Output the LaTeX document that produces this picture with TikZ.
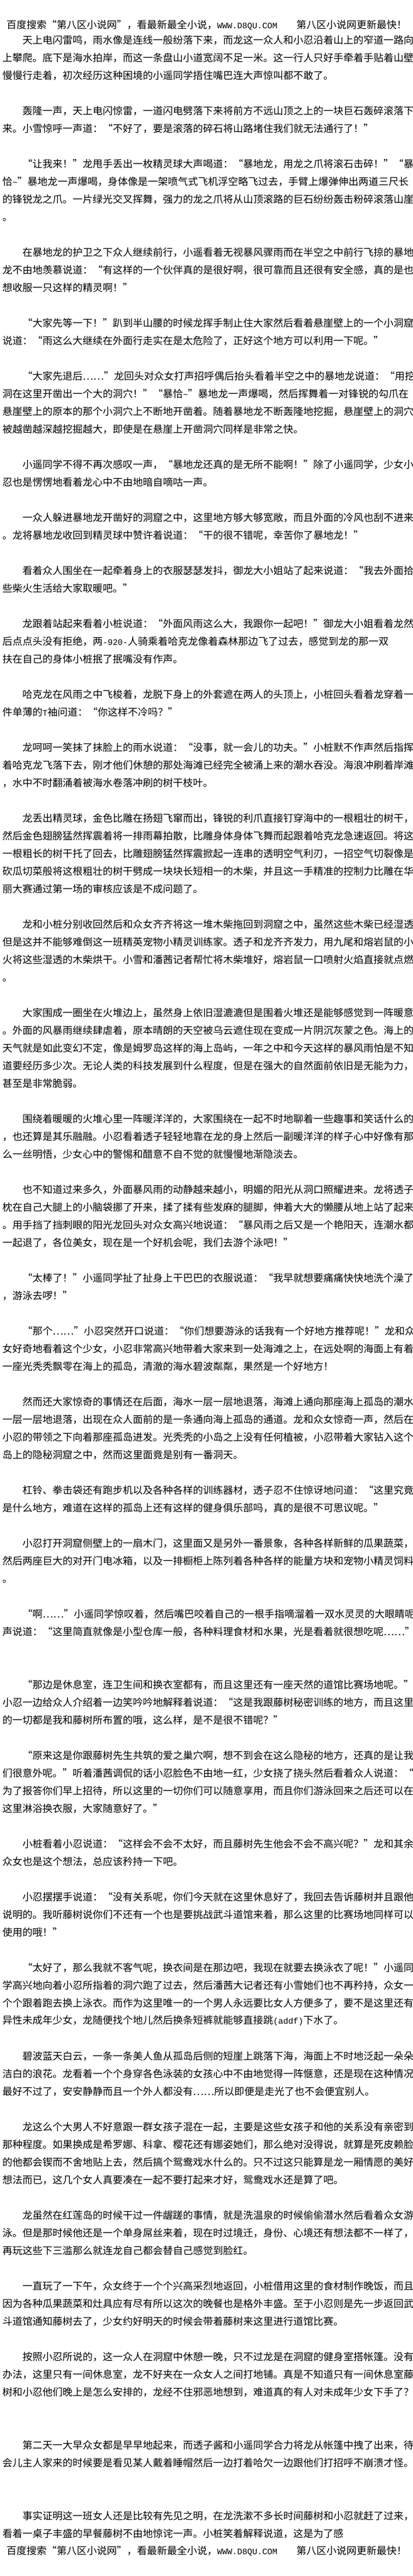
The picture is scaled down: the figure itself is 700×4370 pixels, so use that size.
\documentclass[tikz,border=0pt]{standalone}
\usepackage{fontspec}
\setmainfont{Noto Sans CJK SC}
\newfontfamily\hwfont{Liberation Mono}
\newcommand\hw[1]{{\hwfont\fontsize{14.2bp}{14.2bp}\selectfont #1}}
\tikzset{ln/.style={anchor=west, inner sep=0pt, outer sep=0pt, text=black,
  font=\fontsize{17bp}{20bp}\selectfont, execute at begin node=\vphantom{国}}}
\begin{document}
\begin{tikzpicture}[x=1bp,y=-1bp]
\fill[white] (0,0) rectangle (700,4370);
\path[use as bounding box] (0,0) rectangle (700,4370);
\node[ln] (top) at (11,43) {百度搜索“第八区小说网”，看最新最全小说，\hw{WWW.D8QU.COM}\hspace*{32bp}第八区小说网更新最快！};
\node[ln] (a1) at (4,68) {　　天上电闪雷鸣，雨水像是连线一般纷落下来，而龙这一众人和小忍沿着山上的窄道一路向};
\node[ln] (a2) at (4,98) {上攀爬。底下是海水拍岸，而这一条盘山小道宽阔不足一米。这一行人只好手牵着手贴着山壁};
\node[ln] (a3) at (4,128) {慢慢行走着，初次经历这种困境的小遥同学捂住嘴巴连大声惊叫都不敢了。};
\node[ln] (b1) at (4,188) {　　轰隆一声，天上电闪惊雷，一道闪电劈落下来将前方不远山顶之上的一块巨石轰碎滚落下};
\node[ln] (b2) at (4,218) {来。小雪惊呼一声道：“不好了，要是滚落的碎石将山路堵住我们就无法通行了！”};
\node[ln] (c1) at (4,278) {　　“让我来！”龙甩手丢出一枚精灵球大声喝道：“暴地龙，用龙之爪将滚石击碎！”“暴};
\node[ln] (c2) at (4,308) {恰\hw{\textasciitilde}”暴地龙一声爆喝，身体像是一架喷气式飞机浮空略飞过去，手臂上爆弹伸出两道三尺长};
\node[ln] (c3) at (4,338) {的锋锐龙之爪。一片绿光交叉挥舞，强力的龙之爪将从山顶滚路的巨石纷纷轰击粉碎滚落山崖};
\node[ln] (c4) at (4,368) {。};
\node[ln] (d1) at (4,428) {　　在暴地龙的护卫之下众人继续前行，小遥看着无视暴风骤雨而在半空之中前行飞掠的暴地};
\node[ln] (d2) at (4,458) {龙不由地羡慕说道：“有这样的一个伙伴真的是很好啊，很可靠而且还很有安全感，真的是也};
\node[ln] (d3) at (4,488) {想收服一只这样的精灵啊！”};
\node[ln] (e1) at (4,548) {　　“大家先等一下！”趴到半山腰的时候龙挥手制止住大家然后看着悬崖壁上的一个小洞窟};
\node[ln] (e2) at (4,578) {说道：“雨这么大继续在外面行走实在是太危险了，正好这个地方可以利用一下呢。”};
\node[ln] (f1) at (4,638) {　　“大家先退后……”龙回头对众女打声招呼偶后抬头看着半空之中的暴地龙说道：“用挖};
\node[ln] (f2) at (4,668) {洞在这里开凿出一个大的洞穴！”“暴恰\hw{\textasciitilde}”暴地龙一声爆喝，然后挥舞着一对锋锐的勾爪在};
\node[ln] (f3) at (4,698) {悬崖壁上的原本的那个小洞穴上不断地开凿着。随着暴地龙不断轰隆地挖掘，悬崖壁上的洞穴};
\node[ln] (f4) at (4,728) {被越凿越深越挖掘越大，即使是在悬崖上开凿洞穴同样是非常之快。};
\node[ln] (g1) at (4,788) {　　小遥同学不得不再次感叹一声，“暴地龙还真的是无所不能啊！”除了小遥同学，少女小};
\node[ln] (g2) at (4,818) {忍也是愣愣地看着龙心中不由地暗自嘀咕一声。};
\node[ln] (h1) at (4,878) {　　一众人躲进暴地龙开凿好的洞窟之中，这里地方够大够宽敞，而且外面的冷风也刮不进来};
\node[ln] (h2) at (4,908) {。龙将暴地龙收回到精灵球中赞许着说道：“干的很不错呢，幸苦你了暴地龙！”};
\node[ln] (i1) at (4,968) {　　看着众人围坐在一起牵着身上的衣服瑟瑟发抖，御龙大小姐站了起来说道：“我去外面拾};
\node[ln] (i2) at (4,998) {些柴火生活给大家取暖吧。”};
\node[ln] (j1) at (4,1058) {　　龙跟着站起来看着小桩说道：“外面风雨这么大，我跟你一起吧！”御龙大小姐看着龙然};
\node[ln] (j2) at (4,1088) {后点点头没有拒绝，两\hw{-920-}人骑乘着哈克龙像着森林那边飞了过去，感觉到龙的那一双};
\node[ln] (j3) at (4,1118) {扶在自己的身体小桩抿了抿嘴没有作声。};
\node[ln] (k1) at (4,1178) {　　哈克龙在风雨之中飞梭着，龙脱下身上的外套遮在两人的头顶上，小桩回头看着龙穿着一};
\node[ln] (k2) at (4,1208) {件单薄的\hw{T}袖问道：“你这样不冷吗？”};
\node[ln] (l1) at (4,1268) {　　龙呵呵一笑抹了抹脸上的雨水说道：“没事，就一会儿的功夫。”小桩默不作声然后指挥};
\node[ln] (l2) at (4,1298) {着哈克龙飞落下去，刚才他们休憩的那处海滩已经完全被涌上来的潮水吞没。海浪冲刷着岸滩};
\node[ln] (l3) at (4,1328) {，水中不时翻涌着被海水卷落冲刷的树干枝叶。};
\node[ln] (m1) at (4,1388) {　　龙丢出精灵球，金色比雕在扬翅飞窜而出，锋锐的利爪直接钉穿海中的一根粗壮的树干，};
\node[ln] (m2) at (4,1418) {然后金色翅膀猛然挥震着将一排雨幕拍散，比雕身体身体飞舞而起跟着哈克龙急速返回。将这};
\node[ln] (m3) at (4,1448) {一根粗长的树干托了回去，比雕翅膀猛然挥震掀起一连串的透明空气利刃，一招空气切裂像是};
\node[ln] (m4) at (4,1478) {砍瓜切菜般将这根粗壮的树干劈成一块块长短相一的木柴，并且这一手精准的控制力比雕在华};
\node[ln] (m5) at (4,1508) {丽大赛通过第一场的审核应该是不成问题了。};
\node[ln] (n1) at (4,1568) {　　龙和小桩分别收回然后和众女齐齐将这一堆木柴拖回到洞窟之中，虽然这些木柴已经湿透};
\node[ln] (n2) at (4,1598) {但是这并不能够难倒这一班精英宠物小精灵训练家。透子和龙齐齐发力，用九尾和熔岩鼠的小};
\node[ln] (n3) at (4,1628) {火将这些湿透的木柴烘干。小雪和潘茜记者帮忙将木柴堆好，熔岩鼠一口喷射火焰直接就点燃};
\node[ln] (n4) at (4,1658) {。};
\node[ln] (o1) at (4,1718) {　　大家围成一圈坐在火堆边上，虽然身上依旧湿漉漉但是围着火堆还是能够感觉到一阵暖意};
\node[ln] (o2) at (4,1748) {。外面的风暴雨继续肆虐着，原本晴朗的天空被乌云遮住现在变成一片阴沉灰蒙之色。海上的};
\node[ln] (o3) at (4,1778) {天气就是如此变幻不定，像是姆罗岛这样的海上岛屿，一年之中和今天这样的暴风雨怕是不知};
\node[ln] (o4) at (4,1808) {道要经历多少次。无论人类的科技发展到什么程度，但是在强大的自然面前依旧是无能为力，};
\node[ln] (o5) at (4,1838) {甚至是非常脆弱。};
\node[ln] (p1) at (4,1898) {　　围绕着暖暖的火堆心里一阵暖洋洋的，大家围绕在一起不时地聊着一些趣事和笑话什么的};
\node[ln] (p2) at (4,1928) {，也还算是其乐融融。小忍看着透子轻轻地靠在龙的身上然后一副暖洋洋的样子心中好像有那};
\node[ln] (p3) at (4,1958) {么一丝明悟，少女心中的警惕和醋意不自不觉的就慢慢地渐隐淡去。};
\node[ln] (q1) at (4,2018) {　　也不知道过来多久，外面暴风雨的动静越来越小，明媚的阳光从洞口照耀进来。龙将透子};
\node[ln] (q2) at (4,2048) {枕在自己大腿上的小脑袋挪了开来，揉了揉有些发麻的腿脚，伸着大大的懒腰从地上站了起来};
\node[ln] (q3) at (4,2078) {。用手挡了挡刺眼的阳光龙回头对众女高兴地说道：“暴风雨之后又是一个艳阳天，连潮水都};
\node[ln] (q4) at (4,2108) {一起退了，各位美女，现在是一个好机会呢，我们去游个泳吧！”};
\node[ln] (r1) at (4,2168) {　　“太棒了！”小遥同学扯了扯身上干巴巴的衣服说道：“我早就想要痛痛快快地洗个澡了};
\node[ln] (r2) at (4,2198) {，游泳去啰！”};
\node[ln] (s1) at (4,2258) {　　“那个……”小忍突然开口说道：“你们想要游泳的话我有一个好地方推荐呢！”龙和众};
\node[ln] (s2) at (4,2288) {女好奇地看着这个少女，小忍非常高兴地带着大家来到一处海滩之上，在远处啊的海面上有着};
\node[ln] (s3) at (4,2318) {一座光秃秃飘零在海上的孤岛，清澈的海水碧波粼粼，果然是一个好地方！};
\node[ln] (t1) at (4,2378) {　　然而还大家惊奇的事情还在后面，海水一层一层地退落，海滩上通向那座海上孤岛的潮水};
\node[ln] (t2) at (4,2408) {一层一层地退落，出现在众人面前的是一条通向海上孤岛的通道。龙和众女惊奇一声，然后在};
\node[ln] (t3) at (4,2438) {小忍的带领之下向着那座孤岛进发。光秃秃的小岛之上没有任何植被，小忍带着大家钻入这个};
\node[ln] (t4) at (4,2468) {岛上的隐秘洞窟之中，然而这里面竟是别有一番洞天。};
\node[ln] (u1) at (4,2528) {　　杠铃、拳击袋还有跑步机以及各种各样的训练器材，透子忍不住惊讶地问道：“这里究竟};
\node[ln] (u2) at (4,2558) {是什么地方，难道在这样的孤岛上还有这样的健身俱乐部吗，真的是很不可思议呢。”};
\node[ln] (v1) at (4,2618) {　　小忍打开洞窟侧壁上的一扇木门，这里面又是另外一番景象，各种各样新鲜的瓜果蔬菜，};
\node[ln] (v2) at (4,2648) {然后两座巨大的对开门电冰箱，以及一排橱柜上陈列着各种各样的能量方块和宠物小精灵饲料};
\node[ln] (v3) at (4,2678) {。};
\node[ln] (w1) at (4,2738) {　　“啊……”小遥同学惊叹着，然后嘴巴咬着自己的一根手指嘀溜着一双水灵灵的大眼睛呢};
\node[ln] (w2) at (4,2768) {声说道：“这里简直就像是小型仓库一般，各种料理食材和水果，光是看着就很想吃呢……”};
\node[ln] (x1) at (4,2858) {　　“那边是休息室，连卫生间和换衣室都有，而且这里还有一座天然的道馆比赛场地呢。”};
\node[ln] (x2) at (4,2888) {小忍一边给众人介绍着一边笑吟吟地解释着说道：“这是我跟藤树秘密训练的地方，而且这里};
\node[ln] (x3) at (4,2918) {的一切都是我和藤树所布置的哦，这么样，是不是很不错呢？”};
\node[ln] (y1) at (4,2978) {　　“原来这是你跟藤树先生共筑的爱之巢穴啊，想不到会在这么隐秘的地方，还真的是让我};
\node[ln] (y2) at (4,3008) {们很意外呢。”听着潘茜调侃的话小忍脸色不由地一红，少女挠了挠头然后看着众人说道：“};
\node[ln] (y3) at (4,3038) {为了报答你们早上招待，所以这里的一切你们可以随意享用，而且你们游泳回来之后还可以在};
\node[ln] (y4) at (4,3068) {这里淋浴换衣服，大家随意好了。”};
\node[ln] (z1) at (4,3128) {　　小桩看着小忍说道：“这样会不会不太好，而且藤树先生他会不会不高兴呢？”龙和其余};
\node[ln] (z2) at (4,3158) {众女也是这个想法，总应该矜持一下吧。};
\node[ln] (A1) at (4,3218) {　　小忍摆摆手说道：“没有关系呢，你们今天就在这里休息好了，我回去告诉藤树并且跟他};
\node[ln] (A2) at (4,3248) {说明的。我听藤树说你们不还有一个也是要挑战武斗道馆来着，那么这里的比赛场地同样可以};
\node[ln] (A3) at (4,3278) {使用的哦！”};
\node[ln] (B1) at (4,3338) {　　“太好了，那么我就不客气呢，换衣间是在那边吧，我现在就要去换泳衣了呢！”小遥同};
\node[ln] (B2) at (4,3368) {学高兴地向着小忍所指着的洞穴跑了过去，然后潘茜大记者还有小雪她们也不再矜持，众女一};
\node[ln] (B3) at (4,3398) {个个跟着跑去换上泳衣。而作为这里唯一的一个男人永远要比女人方便多了，要不是这里还有};
\node[ln] (B4) at (4,3428) {异性未成年少女，龙随便找个地儿然后换条短裤就能够直接跳\hw{(addf)}下水了。};
\node[ln] (C1) at (4,3488) {　　碧波蓝天白云，一条一条美人鱼从孤岛后侧的短崖上跳落下海，海面上不时地泛起一朵朵};
\node[ln] (C2) at (4,3518) {洁白的浪花。龙看着一个个身穿各色泳装的女孩心中不由地觉得一阵惬意，还是现在这种情况};
\node[ln] (C3) at (4,3548) {最好不过了，安安静静而且一个外人都没有……所以即便是走光了也不会便宜别人。};
\node[ln] (D1) at (4,3608) {　　龙这么个大男人不好意跟一群女孩子混在一起，主要是这些女孩子和他的关系没有亲密到};
\node[ln] (D2) at (4,3638) {那种程度。如果换成是希罗娜、科拿、樱花还有娜姿她们，那么绝对没得说，就算是死皮赖脸};
\node[ln] (D3) at (4,3668) {的他都会锲而不舍地贴上去，然后搞个鸳鸯戏水什么的。只不过这只能算是龙一厢情愿的美好};
\node[ln] (D4) at (4,3698) {想法而已，这几个女人真要凑在一起不要打起来才好，鸳鸯戏水还是算了吧。};
\node[ln] (E1) at (4,3758) {　　龙虽然在红莲岛的时候干过一件龌蹉的事情，就是洗温泉的时候偷偷潜水然后看着众女游};
\node[ln] (E2) at (4,3788) {泳。但是那时候他还是一个单身屌丝来着，现在时过境迁，身份、心境还有想法都不一样了，};
\node[ln] (E3) at (4,3818) {再玩这些下三滥那么就连龙自己都会替自己感觉到脸红。};
\node[ln] (F1) at (4,3878) {　　一直玩了一下午，众女终于一个个兴高采烈地返回，小桩借用这里的食材制作晚饭，而且};
\node[ln] (F2) at (4,3908) {因为各种瓜果蔬菜和灶具应有尽有所以这次的晚餐也是格外丰盛。至于小忍则是先一步返回武};
\node[ln] (F3) at (4,3938) {斗道馆通知藤树去了，少女约好明天的时候会带着藤树来这里进行道馆比赛。};
\node[ln] (G1) at (4,3998) {　　按照小忍所说的，这一众人在洞窟中休憩一晚，只不过龙是在洞窟的健身室搭帐篷。没有};
\node[ln] (G2) at (4,4028) {办法，这里只有一间休息室，龙不好夹在一众女人之间打地铺。真是不知道只有一间休息室藤};
\node[ln] (G3) at (4,4058) {树和小忍他们晚上是怎么安排的，龙经不住邪恶地想到，难道真的有人对未成年少女下手了？};
\node[ln] (H1) at (4,4148) {　　第二天一大早众女都是早早地起来，而透子酱和小遥同学合力将龙从帐篷中拽了出来，待};
\node[ln] (H2) at (4,4178) {会儿主人家来的时候要是看见某人戴着睡帽然后一边打着哈欠一边跟他们打招呼不崩溃才怪。};
\node[ln] (I1) at (4,4268) {　　事实证明这一班女人还是比较有先见之明，在龙洗漱不多长时间藤树和小忍就赶了过来，};
\node[ln] (I2) at (4,4298) {看着一桌子丰盛的早餐藤树不由地惊诧一声。小桩笑着解释说道，这是为了感};
\node[ln] (bot) at (11,4328) {百度搜索“第八区小说网”，看最新最全小说，\hw{WWW.D8QU.COM}\hspace*{32bp}第八区小说网更新最快！};
\end{tikzpicture}
\end{document}
